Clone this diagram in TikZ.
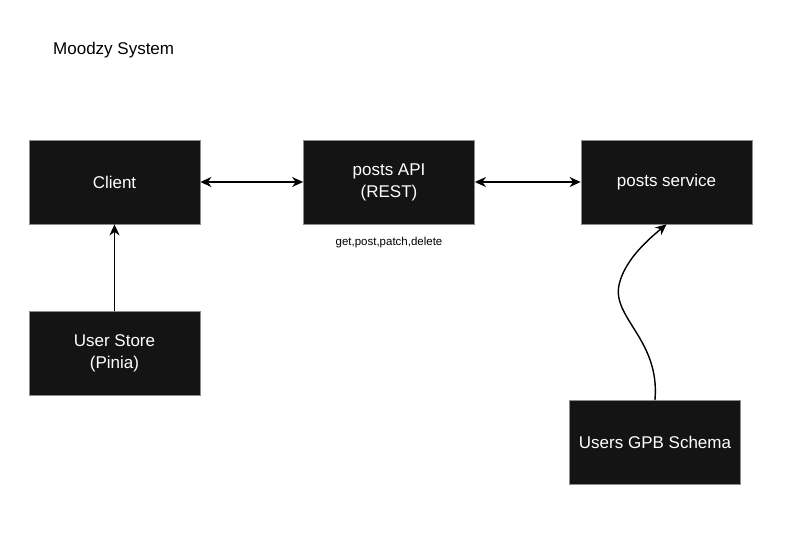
\documentclass[tikz,border=0pt]{standalone}
\usepackage{fontspec}
\setmainfont{Liberation Sans}
\usetikzlibrary{arrows.meta}
\definecolor{boxfill}{HTML}{141414}
\definecolor{boxline}{HTML}{8C8C8C}

\begin{document}
\begin{tikzpicture}[x=1pt, y=-1pt,
                    >={Stealth[length=11pt,width=10pt,inset=3.5pt]}, line cap=round,
                    block/.style={draw=boxline, line width=0.8pt, fill=boxfill,
                      text=white, align=center, minimum width=171pt,
                      minimum height=84pt, inner sep=0pt,
                      font=\fontsize{17}{22}\selectfont},
                    link/.style={line width=1.4pt}
                   ]
\useasboundingbox (0,0) rectangle (796,535);
%title
\node [anchor=west, inner sep=0pt, font=\fontsize{17}{20}\selectfont] (title) at (53,50) {Moodzy System};

%boxes
\node [block] (client)  at (114.5,182) {Client};
\node [block] (api)     at (389,182)   {posts API\\(REST)};
\node [block] (service) at (666.5,182) {posts service};
\node [block] (store)   at (114.5,353) {User Store\\(Pinia)};
\node [block] (schema)  at (655,442)   {Users GPB Schema};

\node [font=\fontsize{11.5}{13}\selectfont] (verbs) at (389,243) {get,post,patch,delete};

%links
\draw [link,<->] (client) -- (api);
\draw [link,<->] (api) -- (service);
\draw [link,->] (store) -- (client);
\coordinate (bend) at (619,285);
\draw [link,->] (schema.north) .. controls (660,340) and (612,318) .. (bend)
      .. controls (624,262) and (645,242) .. (service.south);
\end{tikzpicture}
\end{document}
